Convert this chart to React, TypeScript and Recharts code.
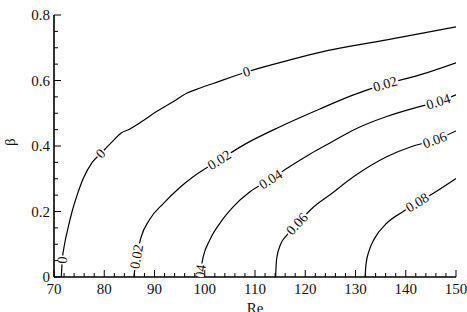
import React from 'react';
import { LineChart, Line, XAxis, YAxis, ReferenceDot } from 'recharts';

// ---- data ----
const contourLevels = ['0', '0.02', '0.04', '0.06', '0.08'];

const contour0 = [
  [71.45, 0], [71.65, 0.052], [72.1, 0.1], [72.8, 0.15], [73.6, 0.2], [74.6, 0.25],
  [75.8, 0.3], [77.6, 0.35], [79.3, 0.377], [81.9, 0.418], [83.3, 0.439], [85.1, 0.452],
  [87.4, 0.474], [90.4, 0.505], [93.7, 0.535], [96.4, 0.561], [99.1, 0.577], [101.7, 0.591],
  [108.3, 0.626], [117, 0.663], [122.9, 0.686], [136.2, 0.724], [150, 0.764],
];
const contour002 = [
  [85.9, 0], [86.45, 0.062], [87.3, 0.12], [89.0, 0.175], [91.8, 0.225], [95.1, 0.274],
  [97.7, 0.306], [102.9, 0.357], [108.3, 0.408], [115, 0.459], [122.9, 0.513],
  [129.6, 0.556], [135.9, 0.589], [142.8, 0.617], [150, 0.654],
];
const contour004 = [
  [99.05, 0], [99.3, 0.03], [99.7, 0.062], [101, 0.113], [103, 0.164], [105.7, 0.215],
  [109, 0.26], [113.1, 0.298], [117, 0.338], [120.9, 0.375], [125, 0.41], [129.6, 0.449],
  [136.2, 0.49], [142.2, 0.518], [146.5, 0.535], [150, 0.556],
];
const contour006 = [
  [114.1, 0], [114.3, 0.055], [115.1, 0.1], [116.3, 0.127], [118.4, 0.162], [121.6, 0.213],
  [125, 0.252], [129.6, 0.306], [136.2, 0.367], [141.5, 0.4], [145.8, 0.418], [150, 0.446],
];
const contour008 = [
  [131.9, 0], [132.1, 0.04], [132.7, 0.08], [133.8, 0.118], [136.2, 0.164], [139.5, 0.2],
  [142.3, 0.227], [145.5, 0.256], [150, 0.301],
];
const contours = [contour0, contour002, contour004, contour006, contour008];

// label anchors: which contour, which point index
const labelContour = [0, 0, 0, 1, 1, 1, 2, 2, 2, 3, 3, 4];
const labelPoint = [1, 8, 18, 1, 7, 12, 0, 7, 14, 4, 10, 6];

const xMajorTicks = [70, 80, 90, 100, 110, 120, 130, 140, 150];
const xAllTicks = [
  70, 72, 74, 76, 78, 80, 82, 84, 86, 88, 90, 92, 94, 96, 98, 100, 102, 104, 106, 108, 110,
  112, 114, 116, 118, 120, 122, 124, 126, 128, 130, 132, 134, 136, 138, 140, 142, 144, 146,
  148, 150,
];
const yMajorTicks = [0, 0.2, 0.4, 0.6, 0.8];
const yAllTicks = [
  0, 0.05, 0.1, 0.15, 0.2, 0.25, 0.3, 0.35, 0.4, 0.45, 0.5, 0.55, 0.6, 0.65, 0.7, 0.75, 0.8,
];

// ---- layout ----
const W = 467;
const H = 312;
const MARGIN = { top: 15, right: 11, bottom: 0, left: 0 };
const Y_AXIS_W = 54;
const X_AXIS_H = 35;
const PLOT_W = W - MARGIN.left - MARGIN.right - Y_AXIS_W;
const PLOT_H = H - MARGIN.top - MARGIN.bottom - X_AXIS_H;
const X_DOMAIN: [number, number] = [70, 150];
const Y_DOMAIN: [number, number] = [0, 0.8];
const KX = PLOT_W / (X_DOMAIN[1] - X_DOMAIN[0]);
const KY = PLOT_H / (Y_DOMAIN[1] - Y_DOMAIN[0]);

const FONT = '"Liberation Serif", "Times New Roman", serif';

const isMajor = (v: number, majors: number[]) => majors.some((m) => Math.abs(m - v) < 1e-9);

const XTick = (props: any) => {
  const { x, y, payload } = props;
  const major = isMajor(payload.value, xMajorTicks);
  return (
    <g>
      <line x1={x} x2={x} y1={y} y2={y - (major ? 7 : 4)} stroke="#000" strokeWidth={1} />
      {major && (
        <text x={x} y={y + 17} textAnchor="middle" fontFamily={FONT} fontSize={15} fill="#111">
          {String(payload.value)}
        </text>
      )}
    </g>
  );
};

const YTick = (props: any) => {
  const { x, y, payload } = props;
  const major = isMajor(payload.value, yMajorTicks);
  return (
    <g>
      <line x1={x} x2={x + (major ? 7 : 4)} y1={y} y2={y} stroke="#000" strokeWidth={1} />
      {major && (
        <text x={x - 4} y={y + 5} textAnchor="end" fontFamily={FONT} fontSize={15} fill="#111">
          {String(payload.value)}
        </text>
      )}
    </g>
  );
};

const labelAngle = (pts: number[][], i: number) => {
  const a = pts[Math.max(0, i - 1)];
  const b = pts[Math.min(pts.length - 1, i + 1)];
  const dx = (b[0] - a[0]) * KX;
  const dy = -(b[1] - a[1]) * KY;
  return (Math.atan2(dy, dx) * 180) / Math.PI;
};

const ContourLabel = (props: any) => {
  const { cx, cy, text, angle, clipPath } = props;
  const w = text.length === 1 ? 9 : 27;
  return (
    <g clipPath={clipPath}>
      <g transform={`rotate(${angle} ${cx} ${cy})`}>
        <rect x={cx - w / 2} y={cy - 4} width={w} height={8} fill="#fff" />
        <text
          x={cx}
          y={cy}
          textAnchor="middle"
          dominantBaseline="central"
          fontFamily={FONT}
          fontSize={14}
          fill="#111"
        >
          {text}
        </text>
      </g>
    </g>
  );
};

export default function App() {
  const seriesData = contours.map((c) => c.map(([x, y]) => ({ x, y })));
  return (
    <div style={{ position: 'absolute', left: 0, top: 0, background: '#fff' }}>
      <LineChart width={W} height={H} margin={MARGIN}>
        <XAxis
          type="number"
          dataKey="x"
          domain={X_DOMAIN}
          allowDataOverflow
          ticks={xAllTicks}
          interval={0}
          height={X_AXIS_H}
          tickSize={0}
          tickMargin={0}
          tickLine={false}
          tick={<XTick />}
          axisLine={{ stroke: '#000', strokeWidth: 1.6 }}
          label={{
            value: 'Re',
            position: 'insideBottom',
            offset: -1,
            style: { fontFamily: FONT, fontSize: 15, fill: '#111' },
          }}
        />
        <YAxis
          type="number"
          dataKey="y"
          domain={Y_DOMAIN}
          allowDataOverflow
          ticks={yAllTicks}
          interval={0}
          width={Y_AXIS_W}
          tickSize={0}
          tickMargin={0}
          tickLine={false}
          tick={<YTick />}
          axisLine={{ stroke: '#000', strokeWidth: 1.6 }}
          label={{
            value: 'β',
            angle: -90,
            position: 'insideLeft',
            offset: 10,
            style: { fontFamily: FONT, fontSize: 15, fill: '#111' },
          }}
        />
        {seriesData.map((d, i) => (
          <Line
            key={contourLevels[i]}
            data={d}
            dataKey="y"
            type="monotone"
            stroke="#000"
            strokeWidth={1.2}
            dot={false}
            activeDot={false}
            isAnimationActive={false}
          />
        ))}
        {labelContour.map((ci, k) => {
          const pts = contours[ci];
          const p = pts[labelPoint[k]];
          const ang = labelAngle(pts, labelPoint[k]);
          return (
            <ReferenceDot
              key={`lbl-${k}`}
              x={p[0]}
              y={p[1]}
              r={0}
              ifOverflow="hidden"
              shape={(sp: any) => <ContourLabel {...sp} text={contourLevels[ci]} angle={ang} />}
            />
          );
        })}
      </LineChart>
    </div>
  );
}
